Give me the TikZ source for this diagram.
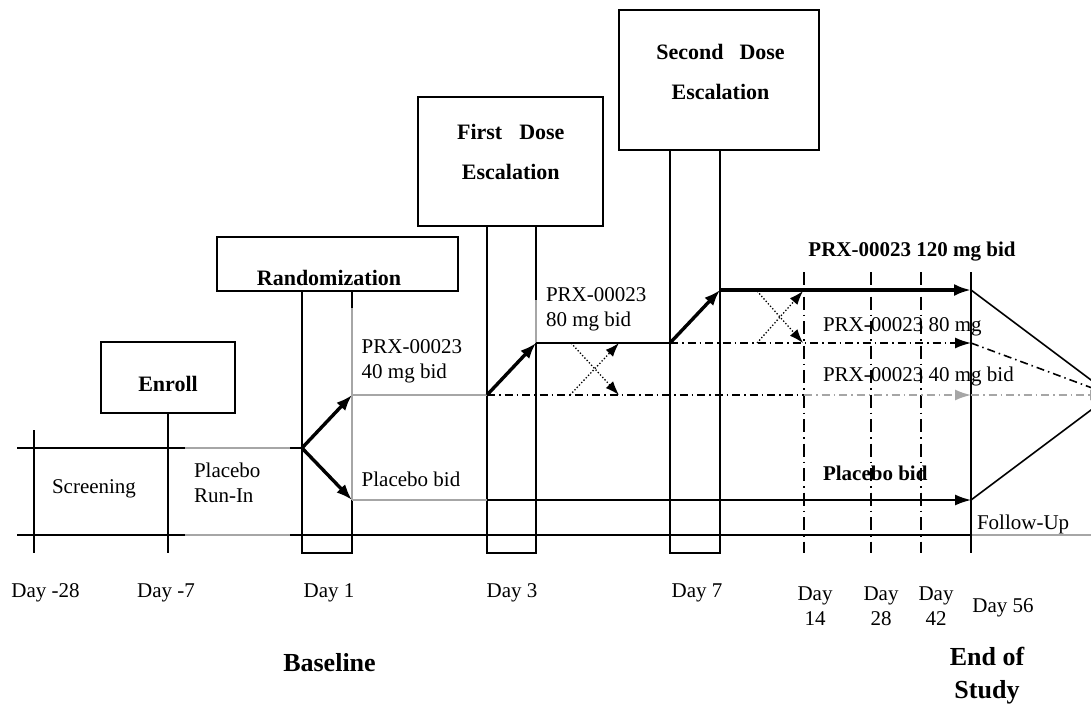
\documentclass[tikz,border=0pt]{standalone}
\usepackage{fontspec}
\setmainfont{Liberation Serif}
\usetikzlibrary{arrows.meta}
\newcommand\regtxt{\fontsize{21}{25}\selectfont}
\newcommand\boldtxt{\fontsize{22}{40}\selectfont\bfseries}
\newcommand\armbold{\fontsize{21}{25}\selectfont\bfseries}
\newcommand\bigbold{\fontsize{26}{33}\selectfont\bfseries}
\begin{document}
\begin{tikzpicture}[x=1pt,y=-1pt,
  every node/.style={inner sep=0pt,outer sep=0pt},
  boxshape/.style={draw,line width=1.8pt,minimum width=#1},
  frame/.style={line width=1.8pt},
  thinline/.style={line width=1.6pt},
  grayline/.style={line width=1.6pt,gray!70},
  bigarrow/.style={line width=3.4pt,-{Latex[length=16pt,width=12pt]}},
  armarrow/.style={line width=1.6pt,-{Latex[length=16pt,width=11pt]}},
  dashdot/.style={line width=1.6pt,dash pattern=on 8pt off 4pt on 1.5pt off 4pt},
  daydash/.style={line width=1.6pt,dash pattern=on 13pt off 5pt on 1.5pt off 5pt},
  crossarrow/.style={line width=1.3pt,dash pattern=on 1.3pt off 2pt,-{Latex[length=14pt,width=10pt]}},
  reglab/.style={font=\regtxt,align=center},
  leftlab/.style={font=\regtxt,align=left,anchor=west},
]
\useasboundingbox (0,0) rectangle (1091,705);
\clip (0,0) rectangle (1091,705);

% ---------- boxes ----------
\node[boxshape=134pt,minimum height=71pt] (enroll) at (168,377.5) {};
\node[boxshape=241.6pt,minimum height=53.4pt] (rand) at (337.5,264) {};
\node[boxshape=185pt,minimum height=128.7pt] (first) at (510.8,161.6) {};
\node[boxshape=200pt,minimum height=140pt] (second) at (719.3,80) {};

\node[font=\boldtxt] (enrolltxt) at (168,384) {Enroll};
\node[font=\boldtxt] (randtxt) at (329,278) {Randomization};
\node[font=\boldtxt,align=center] (firsttxt) at (510.8,152) {First\hspace{17pt}Dose\\Escalation};
\node[font=\boldtxt,align=center] (secondtxt) at (720.5,72) {Second\hspace{16pt}Dose\\Escalation};

% ---------- key coordinates ----------
\coordinate (br) at (302,448);
\coordinate (a40s) at (352,395);
\coordinate (pbs) at (352,500);
\coordinate (d3a) at (487,395);
\coordinate (d3b) at (536,343);
\coordinate (d7a) at (670,343);
\coordinate (d7b) at (720,290);
\coordinate (e120) at (971,290);
\coordinate (e80) at (971,343);
\coordinate (e40) at (971,395);
\coordinate (epb) at (971,500);
\coordinate (conv) at (1111,395);
\coordinate (conv40) at (1106,395);

% ---------- time axis lines ----------
\draw[thinline] (17,448) -- (185,448);
\draw[grayline] (185,448) -- (290,448);
\draw[thinline] (290,448) -- (br);
\draw[thinline] (17,535) -- (185,535);
\draw[grayline] (185,535) -- (290,535);
\draw[thinline] (290,535) -- (971,535);
\draw[grayline] (971,535) -- (1091,535);
\draw[thinline] (34,430) -- (34,553);
\draw[thinline] (enroll.south) -- (168,553);

% ---------- day rectangles ----------
\draw[frame] (302,291) -- (302,553) -- (352,553) -- (352,291);
\draw[grayline] (352,308) -- (352,500);
\draw[frame] (487,226) -- (487,553) -- (536,553) -- (536,226);
\draw[grayline] (536,300) -- (536,343);
\draw[frame] (670,150) -- (670,553) -- (720,553) -- (720,150);

% ---------- later visit lines ----------
\draw[daydash] (804,272) -- (804,553);
\draw[daydash] (871,272) -- (871,553);
\draw[daydash] (921,272) -- (921,553);
\draw[thinline] (971,272) -- (971,553);

% ---------- randomisation branches ----------
\draw[bigarrow] (br) -- (a40s);
\draw[bigarrow] (br) -- (pbs);

% ---------- 40 mg arm ----------
\draw[grayline] (a40s) -- (d3a);
\draw[dashdot] (d3a) -- (804,395);
\draw[dashdot,gray!70,-{Latex[length=16pt,width=11pt]}] (804,395) -- (e40);
\draw[dashdot,gray!70,-{Latex[length=16pt,width=11pt]}] (e40) -- (conv40);

% ---------- placebo arm ----------
\draw[grayline] (pbs) -- (d3a |- pbs);
\draw[armarrow] (d3a |- pbs) -- (epb);

% ---------- 80 mg arm ----------
\draw[bigarrow] (d3a) -- (d3b);
\draw[thinline] (d3b) -- (d7a);
\draw[dashdot,-{Latex[length=16pt,width=11pt]}] (d7a) -- (e80);
\draw[dashdot] (e80) -- (conv);

% ---------- 120 mg arm ----------
\draw[bigarrow] (d7a) -- (d7b);
\draw[line width=3.2pt,-{Latex[length=17pt,width=12pt]}] (d7b) -- (e120);

% ---------- follow-up convergence ----------
\draw[thinline] (e120) -- (conv);
\draw[thinline] (epb) -- (conv);

% ---------- dose-switch crosses ----------
\draw[crossarrow] (570,395) -- (619,343);
\draw[crossarrow] (571,343) -- (619,395);
\draw[crossarrow] (757,343) -- (803,291);
\draw[crossarrow] (757,291) -- (803,343);

% ---------- arm labels ----------
\node[reglab] (scr) at (94,489) {Screening};
\node[leftlab] (runin) at (194,482.5) {Placebo\\Run-In};
\node[leftlab] (p40) at (361.7,361.5) {PRX-00023\\40 mg bid};
\node[leftlab] (pb) at (361.7,479) {Placebo bid};
\node[leftlab] (p80) at (546,309) {PRX-00023\\80 mg bid};
\node[font=\armbold] (p120) at (912,252) {PRX-00023 120 mg bid};
\node[leftlab] (p80r) at (823,327) {PRX-00023 80 mg};
\node[leftlab] (p40r) at (823,376) {PRX-00023 40 mg bid};
\node[font=\armbold,anchor=west] (pbr) at (823,473) {Placebo bid};
\node[leftlab] (fu) at (977,524) {Follow-Up};

% ---------- day labels ----------
\node[reglab] (dm28) at (45.5,593) {Day -28};
\node[reglab] (dm7) at (166,593) {Day -7};
\node[reglab] (dd1) at (329,593) {Day 1};
\node[reglab] (dd3) at (512,593) {Day 3};
\node[reglab] (dd7) at (697,593) {Day 7};
\node[reglab] (dd14) at (815,606.5) {Day\\14};
\node[reglab] (dd28) at (881,606.5) {Day\\28};
\node[reglab] (dd42) at (936,606.5) {Day\\42};
\node[reglab] (dd56) at (1003,608) {Day 56};

\node[font=\bigbold] (baseline) at (329.5,663) {Baseline};
\node[font=\bigbold,align=center] (eos) at (987,676) {End of\\Study};
\end{tikzpicture}
\end{document}
